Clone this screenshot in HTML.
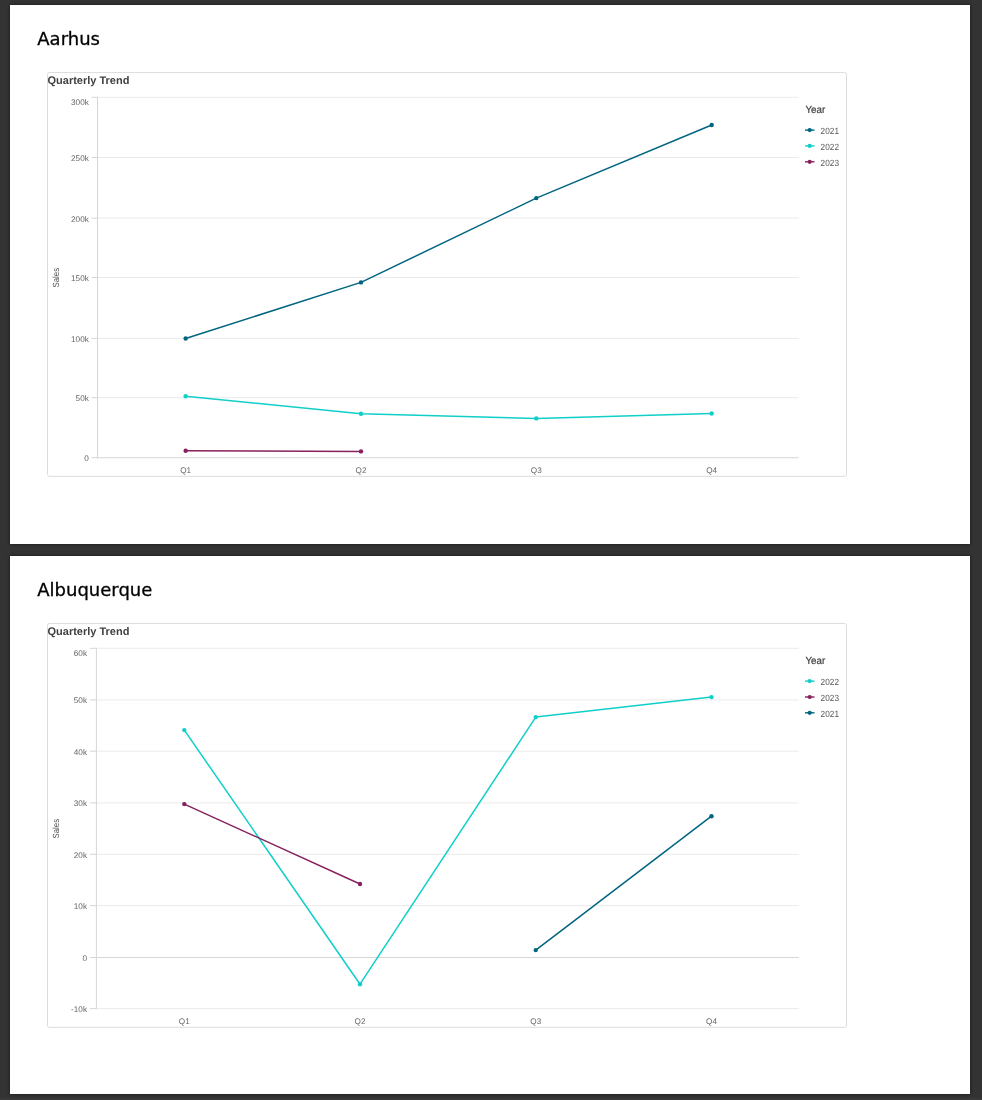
<!DOCTYPE html>
<html lang="en">
<head>
<meta charset="utf-8">
<title>Quarterly Trend Report</title>
<style>
html,body{margin:0;padding:0;}
body{width:982px;height:1100px;background:#333333;overflow:hidden;position:relative;font-family:"Liberation Sans",sans-serif;}
.page{position:absolute;left:10px;width:960px;height:539px;background:#fff;box-shadow:0 0 3px rgba(0,0,0,.6);}
#p1{top:5px;}
#p2{top:556px;height:538px;}
#ft{position:absolute;left:0;top:1097px;width:982px;height:3px;background:linear-gradient(#333,#3b3b3b);}
h1{position:absolute;left:27.3px;top:23px;margin:0;font:normal 18px/22px "DejaVu Sans","Liberation Sans",sans-serif;color:#000;white-space:nowrap;-webkit-text-stroke:0.3px #000;}
svg{position:absolute;left:0;top:0;}
svg text{text-rendering:geometricPrecision;}
.ttl{font:bold 11px "Liberation Sans",sans-serif;fill:#404040;}
.lbl{font:8.2px "Liberation Sans",sans-serif;fill:#666666;}
.ax{font-size:8.9px;fill:#4d4d4d;}
.lg{font-size:9px;fill:#595959;}
.lgt{font:10.3px "Liberation Sans",sans-serif;fill:#404040;stroke:#404040;stroke-width:.2px;}
</style>
</head>
<body>
<div class="page" id="p1"><h1>Aarhus</h1></div>
<div class="page" id="p2"><h1>Albuquerque</h1></div>
<div id="ft"></div>
<svg width="982" height="1100" viewBox="0 0 982 1100">
<g id="chart1">
<rect x="47.5" y="72.45" width="799" height="403.9" rx="2" ry="2" fill="none" stroke="#dcdcdc" stroke-width="1"/>
<text x="47.5" y="84.1" class="ttl">Quarterly Trend</text>
<line x1="97.5" y1="97.30" x2="798.8" y2="97.30" stroke="#ebebeb"/>
<line x1="97.5" y1="157.50" x2="798.8" y2="157.50" stroke="#ebebeb"/>
<line x1="97.5" y1="218.10" x2="798.8" y2="218.10" stroke="#ebebeb"/>
<line x1="97.5" y1="277.50" x2="798.8" y2="277.50" stroke="#ebebeb"/>
<line x1="97.5" y1="338.40" x2="798.8" y2="338.40" stroke="#ebebeb"/>
<line x1="97.5" y1="397.70" x2="798.8" y2="397.70" stroke="#ebebeb"/>
<line x1="97.5" y1="457.70" x2="798.8" y2="457.70" stroke="#d6d6d6"/>
<line x1="97.5" y1="96.80" x2="97.5" y2="458.20" stroke="#d6d6d6"/>
<line x1="91.6" y1="97.30" x2="97.5" y2="97.30" stroke="#d6d6d6"/>
<text x="88.8" y="104.9" class="lbl" text-anchor="end">300k</text>
<line x1="91.6" y1="157.50" x2="97.5" y2="157.50" stroke="#d6d6d6"/>
<text x="88.8" y="160.9" class="lbl" text-anchor="end">250k</text>
<line x1="91.6" y1="218.10" x2="97.5" y2="218.10" stroke="#d6d6d6"/>
<text x="88.8" y="221.5" class="lbl" text-anchor="end">200k</text>
<line x1="91.6" y1="277.50" x2="97.5" y2="277.50" stroke="#d6d6d6"/>
<text x="88.8" y="280.9" class="lbl" text-anchor="end">150k</text>
<line x1="91.6" y1="338.40" x2="97.5" y2="338.40" stroke="#d6d6d6"/>
<text x="88.8" y="341.8" class="lbl" text-anchor="end">100k</text>
<line x1="91.6" y1="397.70" x2="97.5" y2="397.70" stroke="#d6d6d6"/>
<text x="88.8" y="401.1" class="lbl" text-anchor="end">50k</text>
<line x1="91.6" y1="457.70" x2="97.5" y2="457.70" stroke="#d6d6d6"/>
<text x="88.8" y="461.1" class="lbl" text-anchor="end">0</text>
<text transform="translate(59.1,277.7) rotate(-90)" class="lbl ax" text-anchor="middle" textLength="19.6" lengthAdjust="spacingAndGlyphs">Sales</text>
<text x="185.7" y="473.3" class="lbl" text-anchor="middle">Q1</text>
<text x="361.0" y="473.3" class="lbl" text-anchor="middle">Q2</text>
<text x="536.3" y="473.3" class="lbl" text-anchor="middle">Q3</text>
<text x="711.7" y="473.3" class="lbl" text-anchor="middle">Q4</text>
<polyline points="185.65,338.50 361.00,282.40 536.30,198.10 711.70,124.95" fill="none" stroke="#006580" stroke-width="1.5" stroke-linejoin="round"/>
<circle cx="185.65" cy="338.50" r="2.2" fill="#006580"/>
<circle cx="361.00" cy="282.40" r="2.2" fill="#006580"/>
<circle cx="536.30" cy="198.10" r="2.2" fill="#006580"/>
<circle cx="711.70" cy="124.95" r="2.2" fill="#006580"/>
<polyline points="185.65,396.20 361.00,413.80 536.30,418.40 711.70,413.50" fill="none" stroke="#10CFC9" stroke-width="1.5" stroke-linejoin="round"/>
<circle cx="185.65" cy="396.20" r="2.2" fill="#10CFC9"/>
<circle cx="361.00" cy="413.80" r="2.2" fill="#10CFC9"/>
<circle cx="536.30" cy="418.40" r="2.2" fill="#10CFC9"/>
<circle cx="711.70" cy="413.50" r="2.2" fill="#10CFC9"/>
<polyline points="185.65,450.80 361.00,451.40" fill="none" stroke="#87205D" stroke-width="1.5" stroke-linejoin="round"/>
<circle cx="185.65" cy="450.80" r="2.2" fill="#87205D"/>
<circle cx="361.00" cy="451.40" r="2.2" fill="#87205D"/>
<text x="805.4" y="113.3" class="lgt" textLength="19.8" lengthAdjust="spacingAndGlyphs">Year</text>
<line x1="805" y1="130.1" x2="814.5" y2="130.1" stroke="#006580" stroke-width="1.4"/>
<circle cx="809.7" cy="130.1" r="2.1" fill="#006580"/>
<text x="820.6" y="134.0" class="lbl lg" textLength="18.4" lengthAdjust="spacingAndGlyphs">2021</text>
<line x1="805" y1="145.9" x2="814.5" y2="145.9" stroke="#10CFC9" stroke-width="1.4"/>
<circle cx="809.7" cy="145.9" r="2.1" fill="#10CFC9"/>
<text x="820.6" y="149.8" class="lbl lg" textLength="18.4" lengthAdjust="spacingAndGlyphs">2022</text>
<line x1="805" y1="161.8" x2="814.5" y2="161.8" stroke="#87205D" stroke-width="1.4"/>
<circle cx="809.7" cy="161.8" r="2.1" fill="#87205D"/>
<text x="820.6" y="165.7" class="lbl lg" textLength="18.4" lengthAdjust="spacingAndGlyphs">2023</text>
</g>
<g id="chart2">
<rect x="47.5" y="623.45" width="799" height="403.9" rx="2" ry="2" fill="none" stroke="#dcdcdc" stroke-width="1"/>
<text x="47.5" y="635.1" class="ttl">Quarterly Trend</text>
<line x1="96.4" y1="648.30" x2="798.8" y2="648.30" stroke="#ebebeb"/>
<line x1="96.4" y1="699.90" x2="798.8" y2="699.90" stroke="#ebebeb"/>
<line x1="96.4" y1="751.20" x2="798.8" y2="751.20" stroke="#ebebeb"/>
<line x1="96.4" y1="802.90" x2="798.8" y2="802.90" stroke="#ebebeb"/>
<line x1="96.4" y1="854.30" x2="798.8" y2="854.30" stroke="#ebebeb"/>
<line x1="96.4" y1="905.60" x2="798.8" y2="905.60" stroke="#ebebeb"/>
<line x1="96.4" y1="957.50" x2="798.8" y2="957.50" stroke="#d6d6d6"/>
<line x1="96.4" y1="1008.60" x2="798.8" y2="1008.60" stroke="#ebebeb"/>
<line x1="96.4" y1="647.80" x2="96.4" y2="1009.10" stroke="#d6d6d6"/>
<line x1="90.0" y1="648.30" x2="96.4" y2="648.30" stroke="#d6d6d6"/>
<text x="87.0" y="655.9" class="lbl" text-anchor="end">60k</text>
<line x1="90.0" y1="699.90" x2="96.4" y2="699.90" stroke="#d6d6d6"/>
<text x="87.0" y="703.3" class="lbl" text-anchor="end">50k</text>
<line x1="90.0" y1="751.20" x2="96.4" y2="751.20" stroke="#d6d6d6"/>
<text x="87.0" y="754.6" class="lbl" text-anchor="end">40k</text>
<line x1="90.0" y1="802.90" x2="96.4" y2="802.90" stroke="#d6d6d6"/>
<text x="87.0" y="806.3" class="lbl" text-anchor="end">30k</text>
<line x1="90.0" y1="854.30" x2="96.4" y2="854.30" stroke="#d6d6d6"/>
<text x="87.0" y="857.7" class="lbl" text-anchor="end">20k</text>
<line x1="90.0" y1="905.60" x2="96.4" y2="905.60" stroke="#d6d6d6"/>
<text x="87.0" y="909.0" class="lbl" text-anchor="end">10k</text>
<line x1="90.0" y1="957.50" x2="96.4" y2="957.50" stroke="#d6d6d6"/>
<text x="87.0" y="960.9" class="lbl" text-anchor="end">0</text>
<line x1="90.0" y1="1008.60" x2="96.4" y2="1008.60" stroke="#d6d6d6"/>
<text x="87.0" y="1012.2" class="lbl" text-anchor="end">-10k</text>
<text transform="translate(59.1,828.7) rotate(-90)" class="lbl ax" text-anchor="middle" textLength="19.6" lengthAdjust="spacingAndGlyphs">Sales</text>
<text x="184.3" y="1024.3" class="lbl" text-anchor="middle">Q1</text>
<text x="360.0" y="1024.3" class="lbl" text-anchor="middle">Q2</text>
<text x="535.8" y="1024.3" class="lbl" text-anchor="middle">Q3</text>
<text x="711.5" y="1024.3" class="lbl" text-anchor="middle">Q4</text>
<polyline points="184.30,730.10 360.00,984.20 535.75,717.10 711.50,697.10" fill="none" stroke="#10CFC9" stroke-width="1.5" stroke-linejoin="round"/>
<circle cx="184.30" cy="730.10" r="2.2" fill="#10CFC9"/>
<circle cx="360.00" cy="984.20" r="2.2" fill="#10CFC9"/>
<circle cx="535.75" cy="717.10" r="2.2" fill="#10CFC9"/>
<circle cx="711.50" cy="697.10" r="2.2" fill="#10CFC9"/>
<polyline points="184.30,804.10 360.00,884.00" fill="none" stroke="#87205D" stroke-width="1.5" stroke-linejoin="round"/>
<circle cx="184.30" cy="804.10" r="2.2" fill="#87205D"/>
<circle cx="360.00" cy="884.00" r="2.2" fill="#87205D"/>
<polyline points="535.75,950.10 711.50,816.20" fill="none" stroke="#006580" stroke-width="1.5" stroke-linejoin="round"/>
<circle cx="535.75" cy="950.10" r="2.2" fill="#006580"/>
<circle cx="711.50" cy="816.20" r="2.2" fill="#006580"/>
<text x="805.4" y="664.3" class="lgt" textLength="19.8" lengthAdjust="spacingAndGlyphs">Year</text>
<line x1="805" y1="681.1" x2="814.5" y2="681.1" stroke="#10CFC9" stroke-width="1.4"/>
<circle cx="809.7" cy="681.1" r="2.1" fill="#10CFC9"/>
<text x="820.6" y="685.0" class="lbl lg" textLength="18.4" lengthAdjust="spacingAndGlyphs">2022</text>
<line x1="805" y1="697.0" x2="814.5" y2="697.0" stroke="#87205D" stroke-width="1.4"/>
<circle cx="809.7" cy="697.0" r="2.1" fill="#87205D"/>
<text x="820.6" y="700.9" class="lbl lg" textLength="18.4" lengthAdjust="spacingAndGlyphs">2023</text>
<line x1="805" y1="712.8" x2="814.5" y2="712.8" stroke="#006580" stroke-width="1.4"/>
<circle cx="809.7" cy="712.8" r="2.1" fill="#006580"/>
<text x="820.6" y="716.7" class="lbl lg" textLength="18.4" lengthAdjust="spacingAndGlyphs">2021</text>
</g>
</svg>
</body>
</html>
